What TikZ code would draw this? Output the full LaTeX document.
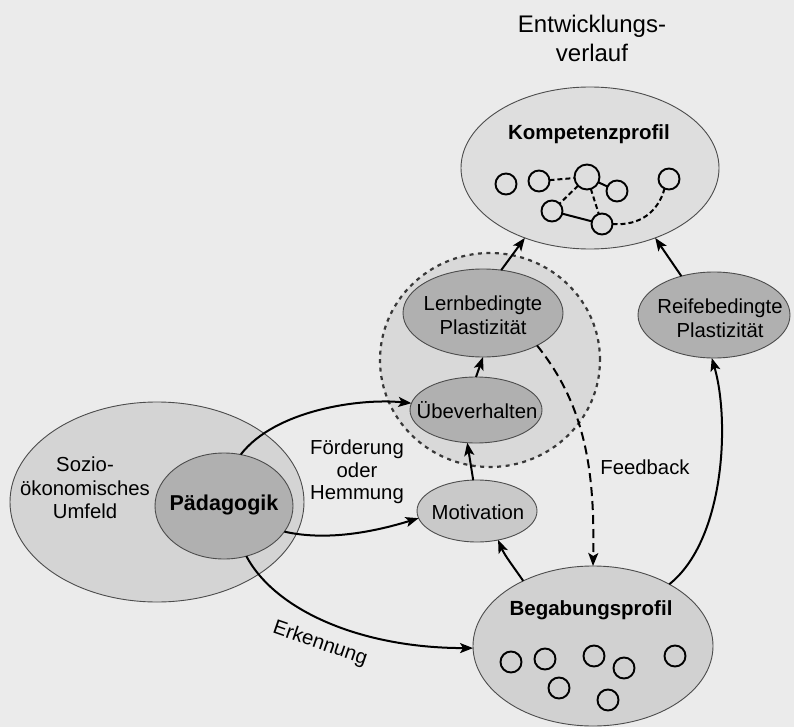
\documentclass[tikz,border=0pt]{standalone}
\usepackage{fontspec}
\setmainfont{Liberation Sans}
\usetikzlibrary{shapes.geometric,arrows.meta}
\begin{document}
\begin{tikzpicture}[x=1pt,y=-1pt,
  ell/.style={ellipse, draw=black!70, line width=0.9pt, inner sep=0pt, outer sep=0pt},
  lbl/.style={font=\fontsize{20.3}{24}\selectfont, align=center, inner sep=0pt},
  blbl/.style={font=\fontsize{20.5}{24}\selectfont\bfseries, inner sep=0pt},
  arr/.style={line width=2pt, -{Stealth[length=13pt,width=10pt,inset=3pt]}},
  sc/.style={circle, draw=black, line width=1.9pt, minimum size=21pt, inner sep=0pt, outer sep=0pt},
  netdash/.style={line width=2pt, dash pattern=on 5pt off 3pt},
  netline/.style={line width=2pt}
]
\fill[black!8] (0,0) rectangle (794,727);
\useasboundingbox (0,0) rectangle (794,727);

% big ellipses
\node[ell, fill=black!17, minimum width=294pt, minimum height=200pt] (sozio) at (157,502) {};
\node[ell, fill=black!31, minimum width=138pt, minimum height=106pt] (paed) at (224,506) {};
\node[ell, fill=black!13, minimum width=258pt, minimum height=162pt] (komp) at (590,168) {};
\node[ell, fill=black!18, minimum width=240pt, minimum height=160pt] (beg) at (593,646) {};
\node[ellipse, fill=black!15, draw=black!78, line width=2.2pt, dash pattern=on 4pt off 4.5pt,
      minimum width=220pt, minimum height=214pt, inner sep=0pt] (zone) at (490,360) {};
\node[ell, fill=black!31, minimum width=160pt, minimum height=88pt] (lern) at (483,313) {};
\node[ell, fill=black!31, minimum width=132pt, minimum height=66pt] (ube) at (476,410) {};
\node[ell, fill=black!21, minimum width=120pt, minimum height=62pt] (mot) at (477,511) {};
\node[ell, fill=black!31, minimum width=152pt, minimum height=86pt] (reif) at (714,315) {};

% texts
\node[lbl, font=\fontsize{24}{29}\selectfont] (title) at (592,38) {Entwicklungs-\\verlauf};
\node[blbl] (kompt) at (589,134) {Kompetenzprofil};
\node[blbl] (begt) at (591,610) {Begabungsprofil};
\node[blbl, font=\fontsize{21.5}{24}\selectfont\bfseries] (paedt) at (224,505) {Pädagogik};
\node[lbl] (lernt) at (483,315) {Lernbedingte\\Plastizität};
\node[lbl] (reift) at (720,318) {Reifebedingte\\Plastizität};
\node[lbl] (ubet) at (477,410) {Übeverhalten};
\node[lbl] (mott) at (478,512) {Motivation};
\node[lbl, font=\fontsize{20.3}{23.5}\selectfont] (soziot) at (85,488) {Sozio-\\ökonomisches\\Umfeld};
\node[lbl, font=\fontsize{20.3}{22.5}\selectfont] (foerd) at (357,472) {Förderung\\oder\\Hemmung};
\node[lbl] (feedt) at (645,467) {Feedback};
\node[lbl, rotate=-19] (erkt) at (320,644) {Erkennung};

% network in Kompetenzprofil
\node[sc] (k1) at (506,184) {};
\node[sc] (k2) at (539,181) {};
\node[sc, minimum size=25pt] (k3) at (587,177) {};
\node[sc] (k4) at (617,191) {};
\node[sc] (k5) at (669,179) {};
\node[sc] (k6) at (552,211) {};
\node[sc] (k7) at (602,224) {};
\draw[netdash] (k2) -- (k3);
\draw[netdash] (k3) -- (k6);
\draw[netdash] (k3) -- (k7);
\draw[netline] (k3) -- (k4);
\draw[netline] (k6) -- (k7);
\draw[netdash] (k7.east) .. controls (640,226) and (658,212) .. (k5.-115);

% circles in Begabungsprofil
\node[sc] (b1) at (511,662) {};
\node[sc] (b2) at (545,659) {};
\node[sc] (b3) at (594,656) {};
\node[sc] (b4) at (624,668) {};
\node[sc] (b5) at (675,656) {};
\node[sc] (b6) at (559,688) {};
\node[sc] (b7) at (608,700) {};

% arrows
\draw[arr] (paed.72) .. controls (275,410) and (360,398) .. (ube.174);
\draw[arr] (paed.-23) .. controls (330,542) and (380,530) .. (mot.187);
\draw[arr] (paed.-66) .. controls (275,610) and (360,648) .. (beg.181);
\draw[arr] (ube.north) -- (lern.south);
\draw[arr] (mot.97) -- (ube.255);
\draw[arr] (lern.67) -- (komp.227);
\draw[arr] (reif.130) -- (komp.-47);
\draw[arr] (beg.39) .. controls (725,540) and (730,420) .. (reif.267);
\draw[arr] (beg.137) .. controls (513,566) and (505,556) .. (mot.-54);
\draw[line width=2pt, dash pattern=on 9pt off 5pt, -{Stealth[length=13pt,width=10pt,inset=3pt]}]
  (lern.-31) .. controls (585,405) and (595,470) .. (beg.north);
\end{tikzpicture}
\end{document}
